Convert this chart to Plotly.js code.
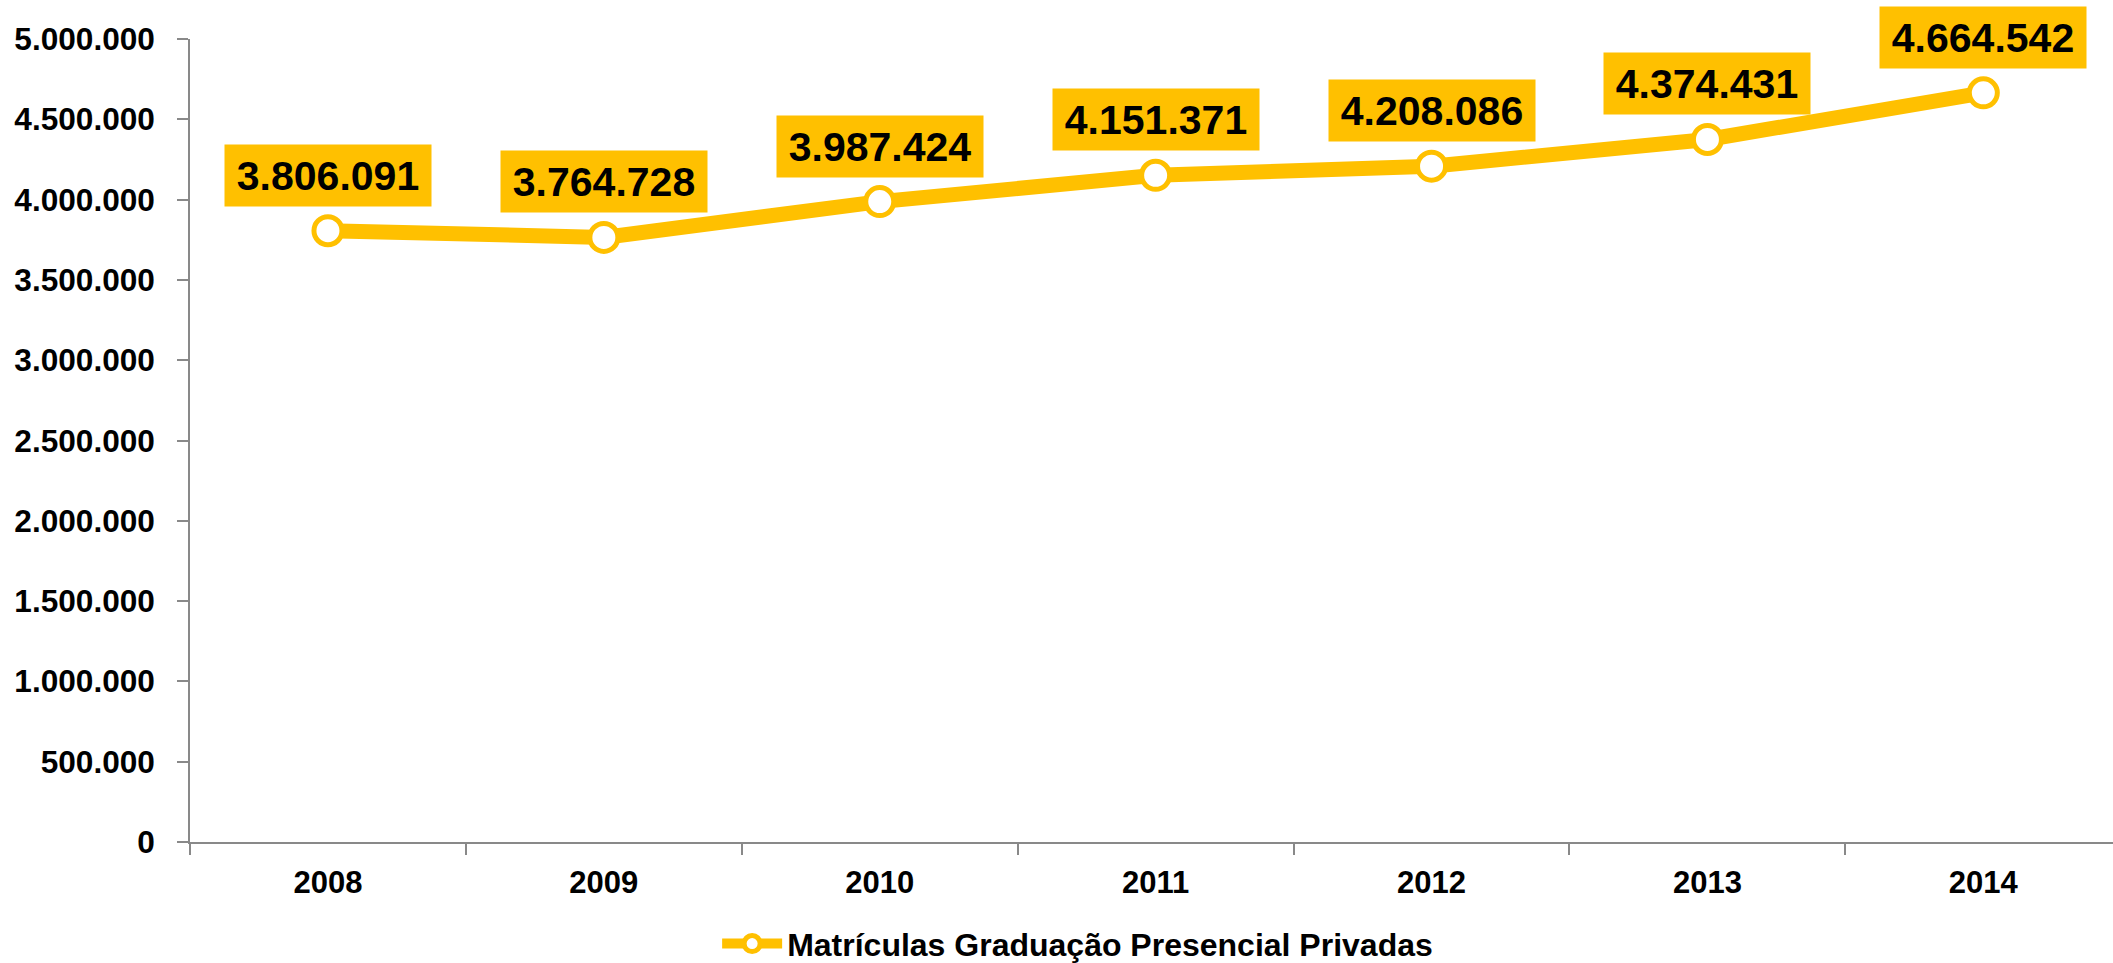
<!DOCTYPE html>
<html>
<head>
<meta charset="utf-8">
<script src="https://cdn.plot.ly/plotly-3.0.1.min.js"></script>
<style>
  html, body { margin: 0; padding: 0; background: #ffffff; }
  #chart { width: 2113px; height: 963px; }
</style>
</head>
<body>
<div id="chart"></div>
<script>
const years = ['2008', '2009', '2010', '2011', '2012', '2013', '2014'];
const matriculas = [3806091, 3764728, 3987424, 4151371, 4208086, 4374431, 4664542];
const seriesName = 'Matrículas Graduação Presencial Privadas';

const gold = '#FFC000';
const axisGray = '#898989';
const fontFam = 'Liberation Sans, Arial, sans-serif';

function fmt(v) {
  return String(v).replace(/\B(?=(\d{3})+(?!\d))/g, '.');
}

const trace = {
  type: 'scatter',
  mode: 'lines+markers',
  x: years,
  y: matriculas,
  name: seriesName,
  line: { color: gold, width: 15 },
  marker: { size: 28, color: '#ffffff', line: { color: gold, width: 5 } },
  cliponaxis: false,
  hoverinfo: 'x+y'
};

// category axis: annotation x given as the category index
const annotations = years.map((yr, i) => ({
  x: i,
  y: matriculas[i],
  xref: 'x',
  yref: 'y',
  text: fmt(matriculas[i]),
  showarrow: false,
  xanchor: 'center',
  yanchor: 'bottom',
  yshift: 24,
  width: 206,
  height: 61,
  borderpad: 0,
  bgcolor: gold,
  align: 'center',
  valign: 'middle',
  font: { family: fontFam, size: 41, color: '#000000', weight: 'bold' }
}));

const layout = {
  width: 2113,
  height: 963,
  margin: { l: 190, r: 0, t: 39, b: 121 },
  paper_bgcolor: '#ffffff',
  plot_bgcolor: '#ffffff',
  separators: ',.',
  showlegend: true,
  font: { family: fontFam, size: 30, color: '#000000', weight: 'bold' },
  xaxis: {
    type: 'category',
    range: [-0.5, 6.47],
    showgrid: false,
    zeroline: false,
    showline: true,
    linecolor: axisGray,
    linewidth: 1.5,
    ticks: 'outside',
    tickson: 'boundaries',
    ticklen: 11,
    tickwidth: 1.5,
    tickcolor: axisGray,
    ticklabelstandoff: 12,
    tickfont: { family: fontFam, size: 31, color: '#000000', weight: 'bold' },
    fixedrange: true
  },
  yaxis: {
    range: [0, 5000000],
    dtick: 500000,
    tick0: 0,
    tickformat: ',d',
    showgrid: false,
    zeroline: false,
    showline: true,
    linecolor: axisGray,
    linewidth: 1.5,
    ticks: 'outside',
    ticklen: 11,
    tickwidth: 1.5,
    tickcolor: axisGray,
    ticklabelstandoff: 16,
    tickfont: { family: fontFam, size: 31.6, color: '#000000', weight: 'bold' },
    fixedrange: true
  },
  legend: {
    orientation: 'h',
    xref: 'container',
    yref: 'container',
    x: 0.51,
    xanchor: 'center',
    y: 0.02,
    yanchor: 'middle',
    itemwidth: 60,
    font: { family: fontFam, size: 32, color: '#000000', weight: 'bold' },
    bgcolor: 'rgba(0,0,0,0)'
  },
  annotations: annotations
};

Plotly.newPlot('chart', [trace], layout, { displayModeBar: false, responsive: false });
</script>
</body>
</html>
